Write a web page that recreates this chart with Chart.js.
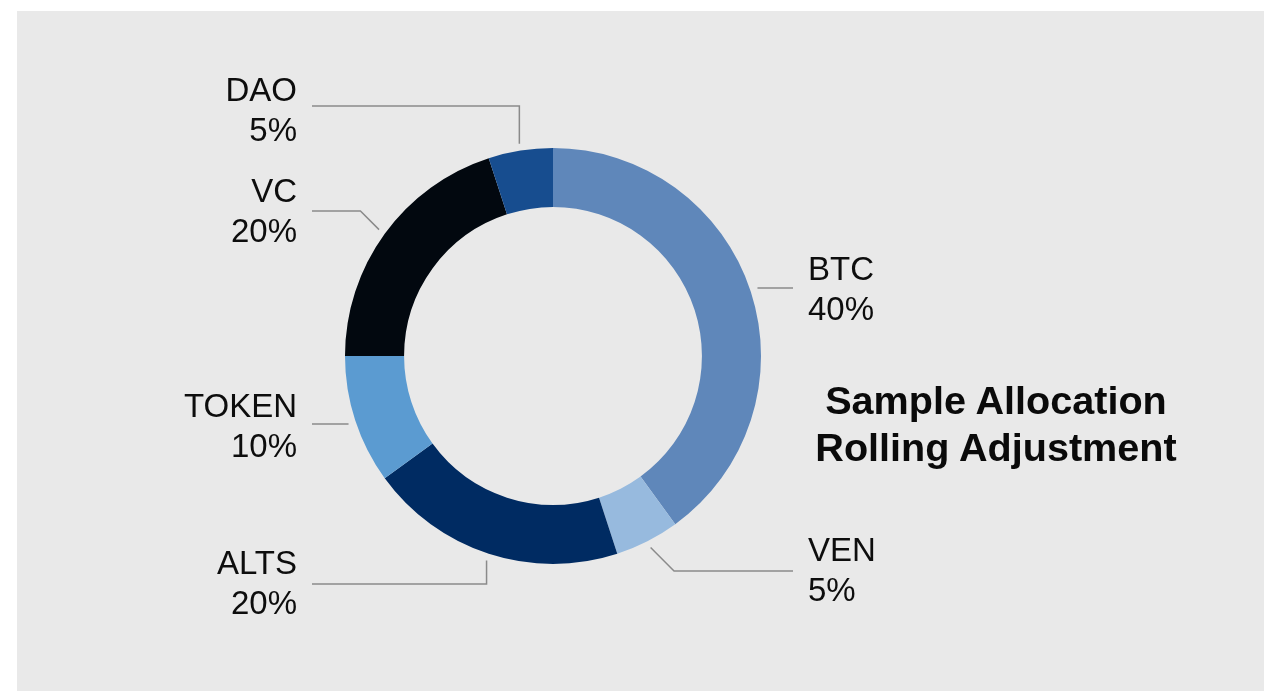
<!DOCTYPE html>
<html>
<head>
    <title>Sample Allocation</title>
    <script src="https://cdn.jsdelivr.net/npm/chart.js"></script>
    <style>
        body { margin: 0; background: #fff; }
        #panel { position: absolute; left: 17px; top: 11px; width: 1247px; height: 680px; background: #e9e9e9; }
        #wrap { position: absolute; left: 0; top: 0; width: 1268px; height: 692px; }
        #title {
            position: absolute; left: 796px; top: 377px; width: 400px;
            text-align: center; font-family: "Liberation Sans", Arial, Helvetica, sans-serif;
            font-weight: bold; font-size: 39.6px; line-height: 47px; color: #0a0a0a;
        }
    </style>
</head>
<body>
    <div id="panel"></div>
    <div id="wrap"><canvas id="allocChart" width="1268" height="692"></canvas></div>
    <div id="title">Sample Allocation<br>Rolling Adjustment</div>

    <script>
        // slices clockwise from 12 o'clock
        const labels = ['BTC', 'VEN', 'ALTS', 'TOKEN', 'VC', 'DAO'];
        const shares = [40, 5, 20, 10, 20, 5];
        const colors = ['#5f87ba', '#97bade', '#002b62', '#5b9bd1', '#02080f', '#174d8f'];

        // callout layout per slice: side, y of the leader line, bend style, text baseline
        const callouts = {
            BTC:   { side: 'right', lineY: 288, bend: 'none', textY: 280 },
            VEN:   { side: 'right', lineY: 571, bend: 'diag', textY: 561 },
            ALTS:  { side: 'left',  lineY: 584, bend: 'vert', textY: 574 },
            TOKEN: { side: 'left',  lineY: 424, bend: 'none', textY: 417 },
            VC:    { side: 'left',  lineY: 211, bend: 'diag', textY: 202 },
            DAO:   { side: 'left',  lineY: 106, bend: 'vert', textY: 101 }
        };

        const calloutPlugin = {
            id: 'callouts',
            afterDatasetsDraw(chart) {
                const ctx = chart.ctx;
                const meta = chart.getDatasetMeta(0);
                ctx.save();
                meta.data.forEach((arc, i) => {
                    const c = callouts[labels[i]];
                    const mid = (arc.startAngle + arc.endAngle) / 2;
                    const r = arc.outerRadius + 7;
                    const px = arc.x + Math.cos(mid) * r;
                    const py = arc.y + Math.sin(mid) * r;
                    const dir = c.side === 'left' ? -1 : 1;
                    const endX = c.side === 'left' ? 312 : 793;

                    ctx.beginPath();
                    ctx.strokeStyle = '#8a8a8a';
                    ctx.lineWidth = 1.5;
                    if (c.bend === 'vert') {
                        ctx.moveTo(px, py);
                        ctx.lineTo(px, c.lineY);
                    } else if (c.bend === 'diag') {
                        ctx.moveTo(px, py);
                        ctx.lineTo(px + dir * Math.abs(c.lineY - py), c.lineY);
                    } else {
                        ctx.moveTo(px, c.lineY);
                    }
                    ctx.lineTo(endX, c.lineY);
                    ctx.stroke();

                    ctx.fillStyle = '#0d0d0d';
                    ctx.font = '33px "Liberation Sans", Arial, Helvetica, sans-serif';
                    ctx.textBaseline = 'alphabetic';
                    ctx.textAlign = c.side === 'left' ? 'right' : 'left';
                    const tx = c.side === 'left' ? 297 : 808;
                    ctx.fillText(labels[i], tx, c.textY);
                    ctx.fillText(shares[i] + '%', tx, c.textY + 40);
                });
                ctx.restore();
            }
        };

        new Chart(document.getElementById('allocChart'), {
            type: 'doughnut',
            data: {
                labels: labels,
                datasets: [{
                    data: shares,
                    backgroundColor: colors,
                    borderWidth: 0,
                    hoverOffset: 0
                }]
            },
            options: {
                responsive: false,
                animation: false,
                cutout: '71.6%',
                layout: { padding: { left: 345, right: 507, top: 148, bottom: 128 } },
                plugins: {
                    legend: { display: false },
                    tooltip: { enabled: false }
                }
            },
            plugins: [calloutPlugin]
        });
    </script>
</body>
</html>
